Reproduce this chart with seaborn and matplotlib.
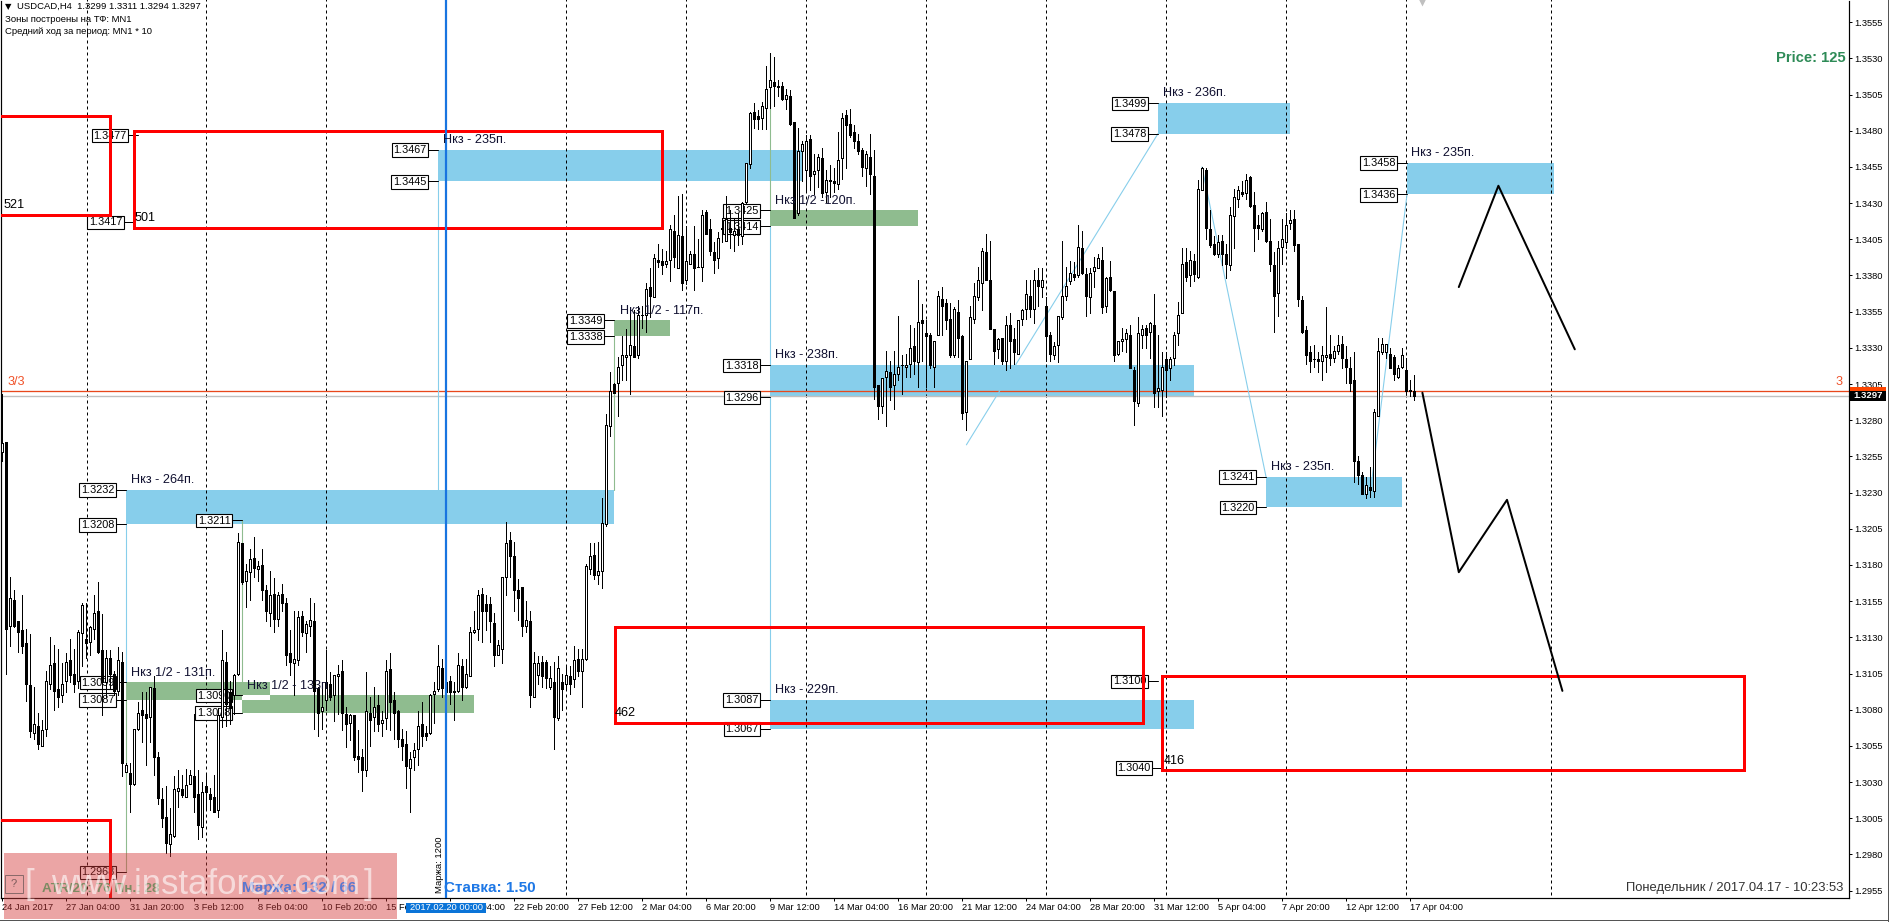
import numpy as np
import pandas as pd
import seaborn as sns
import matplotlib.pyplot as plt
from matplotlib.patches import Rectangle

# =============================
#  Data (prices in 1/10000, bars are H4 candles)
# =============================
opens = [
    13258,13265,13138,13156,13141,13135,13126,13097,13064,13069,
    13055,13067,13098,13112,13094,13090,13100,13114,13105,13100,
    13133,13129,13127,13136,13148,13121,13099,13116,13105,13093,
    13113,13037,13036,13029,13067,13080,13077,13075,13095,13047,
    13018,13006,12987,12993,13024,13025,13020,13029,13034,13022,
    12999,13027,13022,13020,13011,13075,13113,13092,13090,13105,
    13195,13169,13175,13185,13177,13180,13163,13147,13160,13143,
    13160,13154,13119,13112,13114,13145,13133,13138,13141,13095,
    13079,13087,13098,13090,13103,13107,13077,13071,13076,13048,
    13047,13038,13078,13075,13083,13071,13074,13108,13087,13079,
    13060,13056,13040,13047,13053,13070,13064,13064,13091,13094,
    13109,13099,13100,13093,13093,13110,13096,13103,13134,13136,
    13160,13153,13153,13140,13118,13122,13172,13197,13186,13163,
    13165,13138,13141,13089,13104,13113,13113,13096,13099,13074,
    13099,13098,13103,13101,13115,13107,13115,13177,13187,13173,
    13176,13208,13276,13305,13306,13318,13324,13325,13331,13325,
    13353,13353,13372,13365,13391,13390,13388,13391,13411,13385,
    13407,13377,13388,13395,13386,13386,13424,13412,13396,13392,
    13412,13404,13413,13408,13412,13407,13431,13457,13493,13490,
    13489,13496,13510,13514,13511,13511,13502,13504,13486,13423,
    13466,13453,13474,13450,13453,13461,13438,13445,13445,13443,
    13461,13491,13485,13479,13473,13467,13454,13462,13449,13304,
    13290,13310,13313,13304,13312,13318,13317,13319,13331,13320,
    13349,13340,13339,13317,13339,13364,13361,13350,13325,13355,
    13338,13286,13322,13350,13365,13375,13396,13377,13343,13329,
    13337,13321,13346,13336,13326,13350,13357,13366,13357,13377,
    13372,13359,13339,13325,13332,13351,13366,13376,13381,13380,
    13399,13381,13365,13383,13385,13391,13359,13379,13369,13326,
    13335,13336,13339,13315,13292,13339,13344,13341,13346,13300,
    13301,13322,13316,13323,13340,13354,13389,13380,13390,13379,
    13439,13453,13412,13402,13395,13404,13395,13387,13421,13433,
    13438,13437,13448,13429,13415,13412,13424,13404,13387,13368,
    13400,13403,13416,13419,13402,13363,13342,13327,13322,13322,
    13321,13324,13326,13323,13328,13333,13322,13316,13308,13252,
    13242,13229,13234,13231,13283,13327,13327,13326,13324,13310,
    13317,13315,13301,13300,
]
closes = [
    13264,13136,13157,13138,13134,13124,13098,13065,13070,13056,
    13066,13100,13111,13093,13089,13098,13113,13104,13098,13134,
    13152,13126,13137,13147,13120,13099,13116,13105,13093,13114,
    13043,13042,13029,13067,13078,13076,13074,13096,13047,13019,
    13005,12988,12994,13025,13026,13021,13028,13035,13020,13000,
    13023,13023,13018,13009,13076,13114,13084,13081,13104,13196,
    13168,13176,13184,13178,13179,13163,13148,13159,13143,13159,
    13154,13118,13113,13115,13144,13134,13139,13142,13093,13078,
    13082,13099,13089,13104,13105,13078,13070,13076,13047,13046,
    13038,13079,13073,13082,13070,13073,13107,13085,13078,13060,
    13055,13041,13046,13052,13069,13062,13062,13090,13093,13110,
    13095,13092,13092,13092,13111,13096,13105,13134,13135,13159,
    13148,13148,13141,13118,13125,13172,13195,13186,13163,13157,
    13138,13142,13090,13112,13112,13103,13102,13102,13075,13109,
    13094,13104,13098,13114,13107,13115,13179,13186,13173,13176,
    13209,13277,13300,13299,13317,13325,13325,13332,13324,13353,
    13353,13371,13366,13392,13389,13387,13390,13412,13393,13408,
    13375,13390,13395,13385,13386,13422,13409,13397,13391,13406,
    13413,13419,13410,13411,13408,13430,13458,13492,13488,13488,
    13497,13509,13515,13511,13510,13502,13505,13485,13420,13466,
    13471,13473,13449,13452,13462,13437,13446,13446,13444,13460,
    13489,13484,13477,13473,13466,13455,13464,13450,13303,13290,
    13309,13314,13303,13312,13317,13318,13318,13330,13321,13348,
    13347,13338,13318,13335,13366,13359,13349,13325,13357,13337,
    13285,13321,13351,13366,13377,13397,13377,13343,13328,13336,
    13321,13346,13335,13327,13349,13356,13367,13357,13377,13373,
    13377,13338,13326,13331,13352,13366,13373,13382,13379,13400,
    13382,13366,13382,13386,13392,13358,13378,13370,13325,13335,
    13336,13340,13316,13293,13340,13343,13339,13347,13299,13302,
    13317,13315,13322,13339,13353,13388,13379,13391,13381,13440,
    13454,13413,13401,13395,13403,13395,13388,13422,13434,13439,
    13436,13446,13428,13413,13413,13423,13404,13388,13366,13399,
    13405,13415,13418,13401,13364,13341,13325,13321,13322,13321,
    13325,13325,13323,13328,13332,13323,13317,13306,13252,13242,
    13229,13235,13232,13286,13328,13333,13333,13316,13312,13316,
    13325,13300,13300,13297,
]
highs = [
    13298,13265,13172,13163,13141,13159,13136,13132,13096,13078,
    13073,13107,13130,13125,13122,13112,13119,13129,13122,13135,
    13154,13154,13138,13159,13168,13146,13121,13121,13107,13123,
    13120,13043,13043,13067,13085,13092,13092,13096,13103,13051,
    13026,13027,13012,13034,13038,13035,13039,13038,13077,13038,
    13030,13036,13026,13035,13081,13135,13120,13100,13105,13202,
    13195,13181,13191,13199,13183,13191,13166,13176,13171,13161,
    13167,13157,13135,13148,13148,13148,13141,13157,13154,13096,
    13098,13121,13106,13104,13111,13114,13082,13077,13076,13066,
    13053,13106,13089,13096,13090,13079,13114,13119,13092,13080,
    13067,13065,13051,13057,13079,13085,13069,13091,13099,13125,
    13115,13104,13103,13099,13119,13115,13115,13137,13148,13163,
    13164,13159,13158,13147,13128,13172,13210,13203,13196,13170,
    13165,13155,13148,13120,13117,13117,13114,13110,13113,13117,
    13105,13110,13110,13124,13122,13122,13181,13195,13195,13196,
    13226,13284,13313,13306,13324,13338,13343,13357,13356,13359,
    13359,13375,13385,13395,13402,13398,13397,13415,13422,13435,
    13436,13414,13397,13414,13405,13425,13425,13419,13403,13410,
    13420,13435,13425,13420,13423,13431,13458,13493,13499,13494,
    13500,13525,13534,13531,13515,13514,13509,13508,13486,13482,
    13473,13477,13477,13464,13464,13468,13453,13456,13454,13479,
    13492,13494,13495,13484,13478,13468,13466,13478,13467,13304,
    13309,13328,13321,13328,13352,13325,13326,13346,13344,13377,
    13360,13349,13340,13335,13369,13372,13364,13361,13358,13363,
    13339,13321,13359,13375,13386,13399,13409,13404,13343,13337,
    13337,13352,13354,13344,13349,13357,13377,13377,13384,13385,
    13385,13365,13341,13334,13352,13404,13386,13390,13389,13415,
    13411,13385,13385,13393,13395,13400,13379,13390,13369,13335,
    13344,13343,13346,13317,13351,13346,13346,13348,13367,13339,
    13327,13327,13324,13341,13362,13399,13399,13397,13395,13446,
    13455,13454,13425,13407,13408,13408,13402,13427,13440,13442,
    13445,13450,13449,13438,13422,13424,13431,13419,13396,13404,
    13419,13423,13425,13425,13402,13366,13345,13331,13332,13327,
    13331,13358,13339,13331,13339,13338,13331,13324,13327,13255,
    13244,13241,13248,13288,13337,13337,13333,13330,13325,13318,
    13330,13323,13308,13311,
]
lows = [
    13252,13105,13124,13137,13120,13119,13086,13061,13060,13053,
    13055,13062,13094,13080,13082,13085,13092,13099,13092,13095,
    13110,13116,13118,13129,13119,13076,13089,13095,13090,13090,
    13034,13037,13009,13028,13066,13058,13042,13058,13035,13015,
    12999,12981,12979,12992,13013,13020,13020,13029,13009,12991,
    12992,13011,13011,13009,13006,13068,13069,13070,13077,13104,
    13167,13151,13156,13172,13169,13156,13141,13138,13134,13138,
    13148,13111,13104,13090,13111,13131,13120,13131,13067,13062,
    13067,13080,13087,13072,13077,13066,13054,13059,13045,13037,
    13024,13034,13055,13065,13065,13062,13067,13066,13060,13054,
    13045,13026,13009,13038,13042,13055,13059,13063,13071,13093,
    13089,13091,13084,13073,13092,13087,13095,13103,13133,13128,
    13127,13135,13127,13110,13118,13112,13159,13172,13148,13142,
    13131,13134,13082,13089,13098,13096,13095,13094,13053,13073,
    13080,13094,13091,13096,13103,13082,13114,13174,13170,13167,
    13164,13207,13269,13299,13283,13308,13308,13298,13324,13323,
    13344,13341,13351,13365,13386,13381,13386,13376,13386,13385,
    13370,13374,13388,13370,13386,13376,13409,13394,13382,13385,
    13403,13404,13399,13397,13401,13402,13430,13454,13482,13481,
    13481,13481,13496,13497,13504,13501,13495,13484,13420,13422,
    13445,13438,13439,13436,13441,13434,13431,13434,13438,13440,
    13447,13454,13476,13468,13464,13449,13442,13436,13295,13281,
    13285,13276,13294,13288,13308,13298,13310,13310,13312,13303,
    13321,13303,13316,13303,13339,13339,13343,13324,13324,13324,
    13281,13273,13322,13347,13363,13356,13377,13343,13319,13323,
    13319,13315,13316,13319,13326,13346,13350,13351,13347,13359,
    13365,13321,13321,13322,13320,13350,13363,13374,13377,13379,
    13381,13352,13354,13372,13385,13354,13355,13369,13321,13325,
    13328,13327,13316,13277,13290,13330,13330,13323,13289,13289,
    13283,13296,13308,13318,13332,13354,13376,13373,13376,13378,
    13439,13405,13400,13394,13393,13387,13378,13384,13399,13427,
    13435,13433,13427,13397,13405,13411,13403,13383,13341,13352,
    13388,13399,13412,13397,13359,13340,13319,13313,13317,13313,
    13308,13313,13318,13320,13326,13316,13306,13300,13237,13236,
    13229,13226,13227,13227,13283,13326,13323,13316,13308,13309,
    13316,13298,13297,13294,
]

x_labels = ["24 Jan 2017", "27 Jan 04:00", "31 Jan 20:00", "3 Feb 12:00", "8 Feb 04:00", "10 Feb 20:00",
            "15 Feb 12:00", "20 Feb 04:00", "22 Feb 20:00", "27 Feb 12:00", "2 Mar 04:00", "6 Mar 20:00",
            "9 Mar 12:00", "14 Mar 04:00", "16 Mar 20:00", "21 Mar 12:00", "24 Mar 04:00", "28 Mar 20:00",
            "31 Mar 12:00", "5 Apr 04:00", "7 Apr 20:00", "12 Apr 12:00", "17 Apr 04:00"]

# zones : start bar, end bar, top, bottom
blue_start = [31, 109, 289, 351.25, 192, 316, 192]
blue_end = [153, 200, 322, 388, 298, 350, 298]
blue_top = [13232, 13467, 13499, 13458, 13318, 13241, 13087]
blue_bottom = [13208, 13445, 13478, 13436, 13296, 13220, 13067]

green_start = [31, 60, 153, 192]
green_end = [67, 118, 167, 229]
green_top = [13099, 13090, 13349, 13425]
green_bottom = [13087, 13078, 13338, 13414]

red_start = [-10, 33, 153.25, 290.1, -10]
red_end = [27, 165.1, 285.25, 435.5, 27]
red_top = [13490, 13480, 13137, 13103, 13004]
red_bottom = [13422, 13413, 13071, 13038, 12900]

# price tags : value, bar of the tag's tick end
tag_price = [13477, 13417, 13467, 13445, 13349, 13338, 13232, 13208, 13211, 13099, 13087, 13090, 13078, 12968,
             13425, 13414, 13318, 13296, 13087, 13067, 13499, 13478, 13458, 13436, 13241, 13220, 13100, 13040]
tag_bar = [34, 33, 109, 109, 153, 153, 31, 31, 60, 31, 31, 60, 60, 31,
           192, 192, 192, 192, 192, 192, 289, 289, 351.25, 351.25, 316, 316, 289, 290]

# thin connecting lines
thin_x0 = [109, 31, 192, 192, 241.1, 300, 342, 31, 60, 153, 192]
thin_y0 = [13445, 13208, 13414, 13296, 13263, 13455, 13228, 13087, 13211, 13232, 13534]
thin_x1 = [109, 31, 192, 192, 289, 316, 351.25, 31, 60, 153, 192]
thin_y1 = [13232, 13099, 13318, 13087, 13478, 13241, 13436, 12968, 13090, 13338, 13425]
thin_color = ["#87ceeb"] * 7 + ["#8fbc8f"] * 4

# hand drawn forecast
forecast_a_bar = [355.1, 364.2, 376.25, 390.1]
forecast_a_price = [13299, 13175, 13225, 13093]
forecast_b_bar = [364.2, 374.1, 393.2]
forecast_b_price = [13372, 13442, 13329]

dash_bars = [21.15, 51, 81, 141.1, 171.1, 201, 231, 261, 291.1, 321.1, 351.1, 387.25]
blue_bar = 111

# =============================
#  Figure
# =============================
W, H = 1889, 922
sns.set_theme(style="white")
plt.rcParams["font.family"] = ["Liberation Sans", "DejaVu Sans"]
px = 0.72  # one pixel in points at dpi 100

fig = plt.figure(figsize=(W / 100, H / 100), dpi=100, facecolor="white")
ax = fig.add_axes([1 / W, 1 - 898 / H, 1848 / W, 897.5 / H])

df = pd.DataFrame({"open": opens, "high": highs, "low": lows, "close": closes}) / 10000
df["bar"] = np.arange(len(df))
df["up"] = df["close"] >= df["open"]
df["body_low"] = df[["open", "close"]].min(axis=1)
df["body_height"] = (df["open"] - df["close"]).abs()


def add_zones(start, end, top, bottom, color, z):
    for s, e, t, b in zip(start, end, top, bottom):
        ax.add_patch(Rectangle((s, b / 1e4), e - s, (t - b) / 1e4, facecolor=color, edgecolor="none", zorder=z))


add_zones(blue_start, blue_end, blue_top, blue_bottom, "#87ceeb", 1)
add_zones(green_start, green_end, green_top, green_bottom, "#8fbc8f", 1)
add_zones([60], [67], [13090], [13087], "white", 1.1)  # overlap of the two green zones

ax.vlines(dash_bars, 1.2952, 1.3580, color="black", lw=px, linestyles=(0, (3, 3)), capstyle="butt", zorder=1.5)
ax.axhline(1.3297, color="#c0c0c0", lw=1.4 * px, zorder=1.6)
ax.axhline(1.3300, color="#e8481c", lw=1.3 * px, zorder=1.7)

for x0, y0, x1, y1, c in zip(thin_x0, thin_y0, thin_x1, thin_y1, thin_color):
    ax.plot([x0, x1], [y0 / 1e4, y1 / 1e4], color=c, lw=1.1 * px, zorder=2)

# price tags sit below the candles
for value, bar in zip(tag_price, tag_bar):
    ax.annotate(f"{value / 1e4:.4f}", xy=(bar, value / 1e4), xytext=(-11.5 * px, -0.5 * px),
                textcoords="offset points", ha="right", va="center", fontsize=7.8, color="black", zorder=3,
                bbox=dict(boxstyle="square,pad=0.16", fc="white", ec="black", lw=1.1 * px))
    ax.plot([bar - 2.4, bar], [value / 1e4, value / 1e4], color="black", lw=px, zorder=3)

# candles
ax.vlines(df["bar"], df["low"], df["high"], color="black", lw=px, zorder=4, antialiased=False)
ax.bar(df["bar"], df["body_height"], bottom=df["body_low"], width=0.5,
       color=np.where(df["up"], "white", "black"), edgecolor="black", lw=px, zorder=5, antialiased=False)

for s, e, t, b in zip(red_start, red_end, red_top, red_bottom):
    ax.add_patch(Rectangle((s, b / 1e4), e - s, (t - b) / 1e4, fill=False, edgecolor="#ff0000",
                           lw=3 * px, joinstyle="miter", zorder=6))

ax.axvline(blue_bar, color="#1874e0", lw=2.2 * px, zorder=6)

sns.lineplot(x=forecast_a_bar, y=[p / 1e4 for p in forecast_a_price], sort=False, estimator=None,
             color="black", lw=2 * px, ax=ax, zorder=7)
sns.lineplot(x=forecast_b_bar, y=[p / 1e4 for p in forecast_b_price], sort=False, estimator=None,
             color="black", lw=2 * px, ax=ax, zorder=7)
ax.plot([355], [1.3569], marker="v", ms=6, color="#c0c0c0", mec="none", zorder=7)

ax.set_xlim(-0.25, 461.75)
ax.set_ylim(1.29499, 1.3570)

ax.yaxis.tick_right()
y_ticks = np.arange(12955, 13556, 25) / 1e4
ax.set_yticks(y_ticks)
ax.set_yticklabels([f"{v:.4f}" for v in y_ticks], fontsize=6.7, color="black")
ax.set_xticks(np.arange(0, len(opens), 16))
ax.set_xticklabels(x_labels, fontsize=6.7, color="black", ha="left")
ax.tick_params(axis="both", length=3 * px, width=px, color="black", pad=2 * px, direction="out")
ax.tick_params(axis="y", right=True, left=False, pad=2.5 * px)
ax.tick_params(axis="x", bottom=True)
ax.set_xlabel("")
ax.set_ylabel("")
for side, spine in ax.spines.items():
    spine.set_visible(side != "top")
    spine.set_color("black")
    spine.set_linewidth(1.2 * px)


# =============================
#  Texts, placed in picture pixels
# =============================
def put(x, y, s, **kw):
    kw.setdefault("va", "center")
    kw.setdefault("fontsize", 9.1)
    kw.setdefault("color", "#101030")
    return fig.text(x / W, 1 - y / H, s, **kw)


def box(x0, y0, x1, y1, **kw):
    fig.add_artist(Rectangle((x0 / W, 1 - y1 / H), (x1 - x0) / W, (y1 - y0) / H, transform=fig.transFigure, **kw))


for x, y, s in [(443, 140, "Нкз - 235п."), (619.6, 310.7, "Нкз 1/2 - 117п."), (130.8, 480, "Нкз - 264п."),
                (130.8, 672.7, "Нкз 1/2 - 131п."), (247, 685.7, "Нкз 1/2 - 133п."), (775, 201, "Нкз 1/2 -120п."),
                (775, 355, "Нкз - 238п."), (1163.4, 92.7, "Нкз - 236п."), (1411.4, 152.7, "Нкз - 235п."),
                (1271, 466.7, "Нкз - 235п."), (775, 690, "Нкз - 229п.")]:
    put(x, y, s)

for x, y, s in [(3.6, 204.7, "521"), (135, 217.7, "501"), (615, 712.7, "462"), (1163.4, 760.7, "416")]:
    put(x, y, s, color="black")

put(7, 381.7, "3/3", color="#f0522a")
put(1842.7, 381.7, "3", color="#f0522a", ha="right")

put(8, 6.7, "▼", fontsize=6, color="black", ha="center", family=["DejaVu Sans"])
put(17, 6.7, "USDCAD,H4  1.3299 1.3311 1.3294 1.3297", fontsize=6.8, color="black")
put(5.4, 20, "Зоны построены на ТФ: MN1", fontsize=6.8, color="black")
put(5.4, 32, "Средний ход за период: MN1 * 10", fontsize=6.8, color="black")

put(1845.7, 58.3, "Price: 125", fontsize=10.6, color="#2e8b57", weight="bold", ha="right")
put(444, 887.7, "Ставка: 1.50", fontsize=11, color="#1e78e6", weight="bold")
put(440, 893, "Маржа: 1200", fontsize=6.8, color="black", rotation=90, ha="center", va="bottom")
put(1843, 888, "Понедельник / 2017.04.17 - 10:23:53", fontsize=9.4, color="#333333", ha="right")

# current price tags on the scale
box(1850, 386.7, 1886, 396, facecolor="#ff4500", edgecolor="none", zorder=4)
box(1850, 390.7, 1886, 400.7, facecolor="black", edgecolor="none", zorder=4)
put(1868, 395.7, "1.3297", fontsize=6.8, color="white", ha="center", weight="bold", zorder=5)

# selected bar date on the time scale
box(406, 903, 486, 912.7, facecolor="#0a74d8", edgecolor="none", zorder=4)
put(446, 907.8, "2017.02.20 00:00", fontsize=6.7, color="white", ha="center", zorder=5)

# watermark with the panel texts showing through
box(3.6, 853, 397, 919, facecolor="#d33939", alpha=0.45, edgecolor="none", zorder=10)
box(5, 875, 23, 893, facecolor="none", edgecolor="#8a6a6a", lw=px, zorder=10.2)
put(14, 884, "?", fontsize=8, color="#7a5a5a", ha="center", zorder=10.2)
put(42, 889, "ATR/20: 76 Пн.: 28", fontsize=9.7, color="#7c8a62", weight="bold", zorder=10.5)
put(242, 888, "Маржа: 132 / 66", fontsize=11, color="#5a78d0", weight="bold", zorder=10.5)
put(24.5, 884, "[", fontsize=25, color="white", alpha=0.6, zorder=11)
put(51, 884, "www.instaforex.com", fontsize=25, color="white", alpha=0.6, zorder=11)
put(373, 884, "]", fontsize=25, color="white", alpha=0.6, ha="right", zorder=11)

# window frame
box(0, 919.5, W, 921, facecolor="#555555", edgecolor="none", zorder=4)
box(1887.5, 0, 1889, H, facecolor="#555555", edgecolor="none", zorder=4)

fig.savefig("out.png", dpi=100)
plt.close(fig)
